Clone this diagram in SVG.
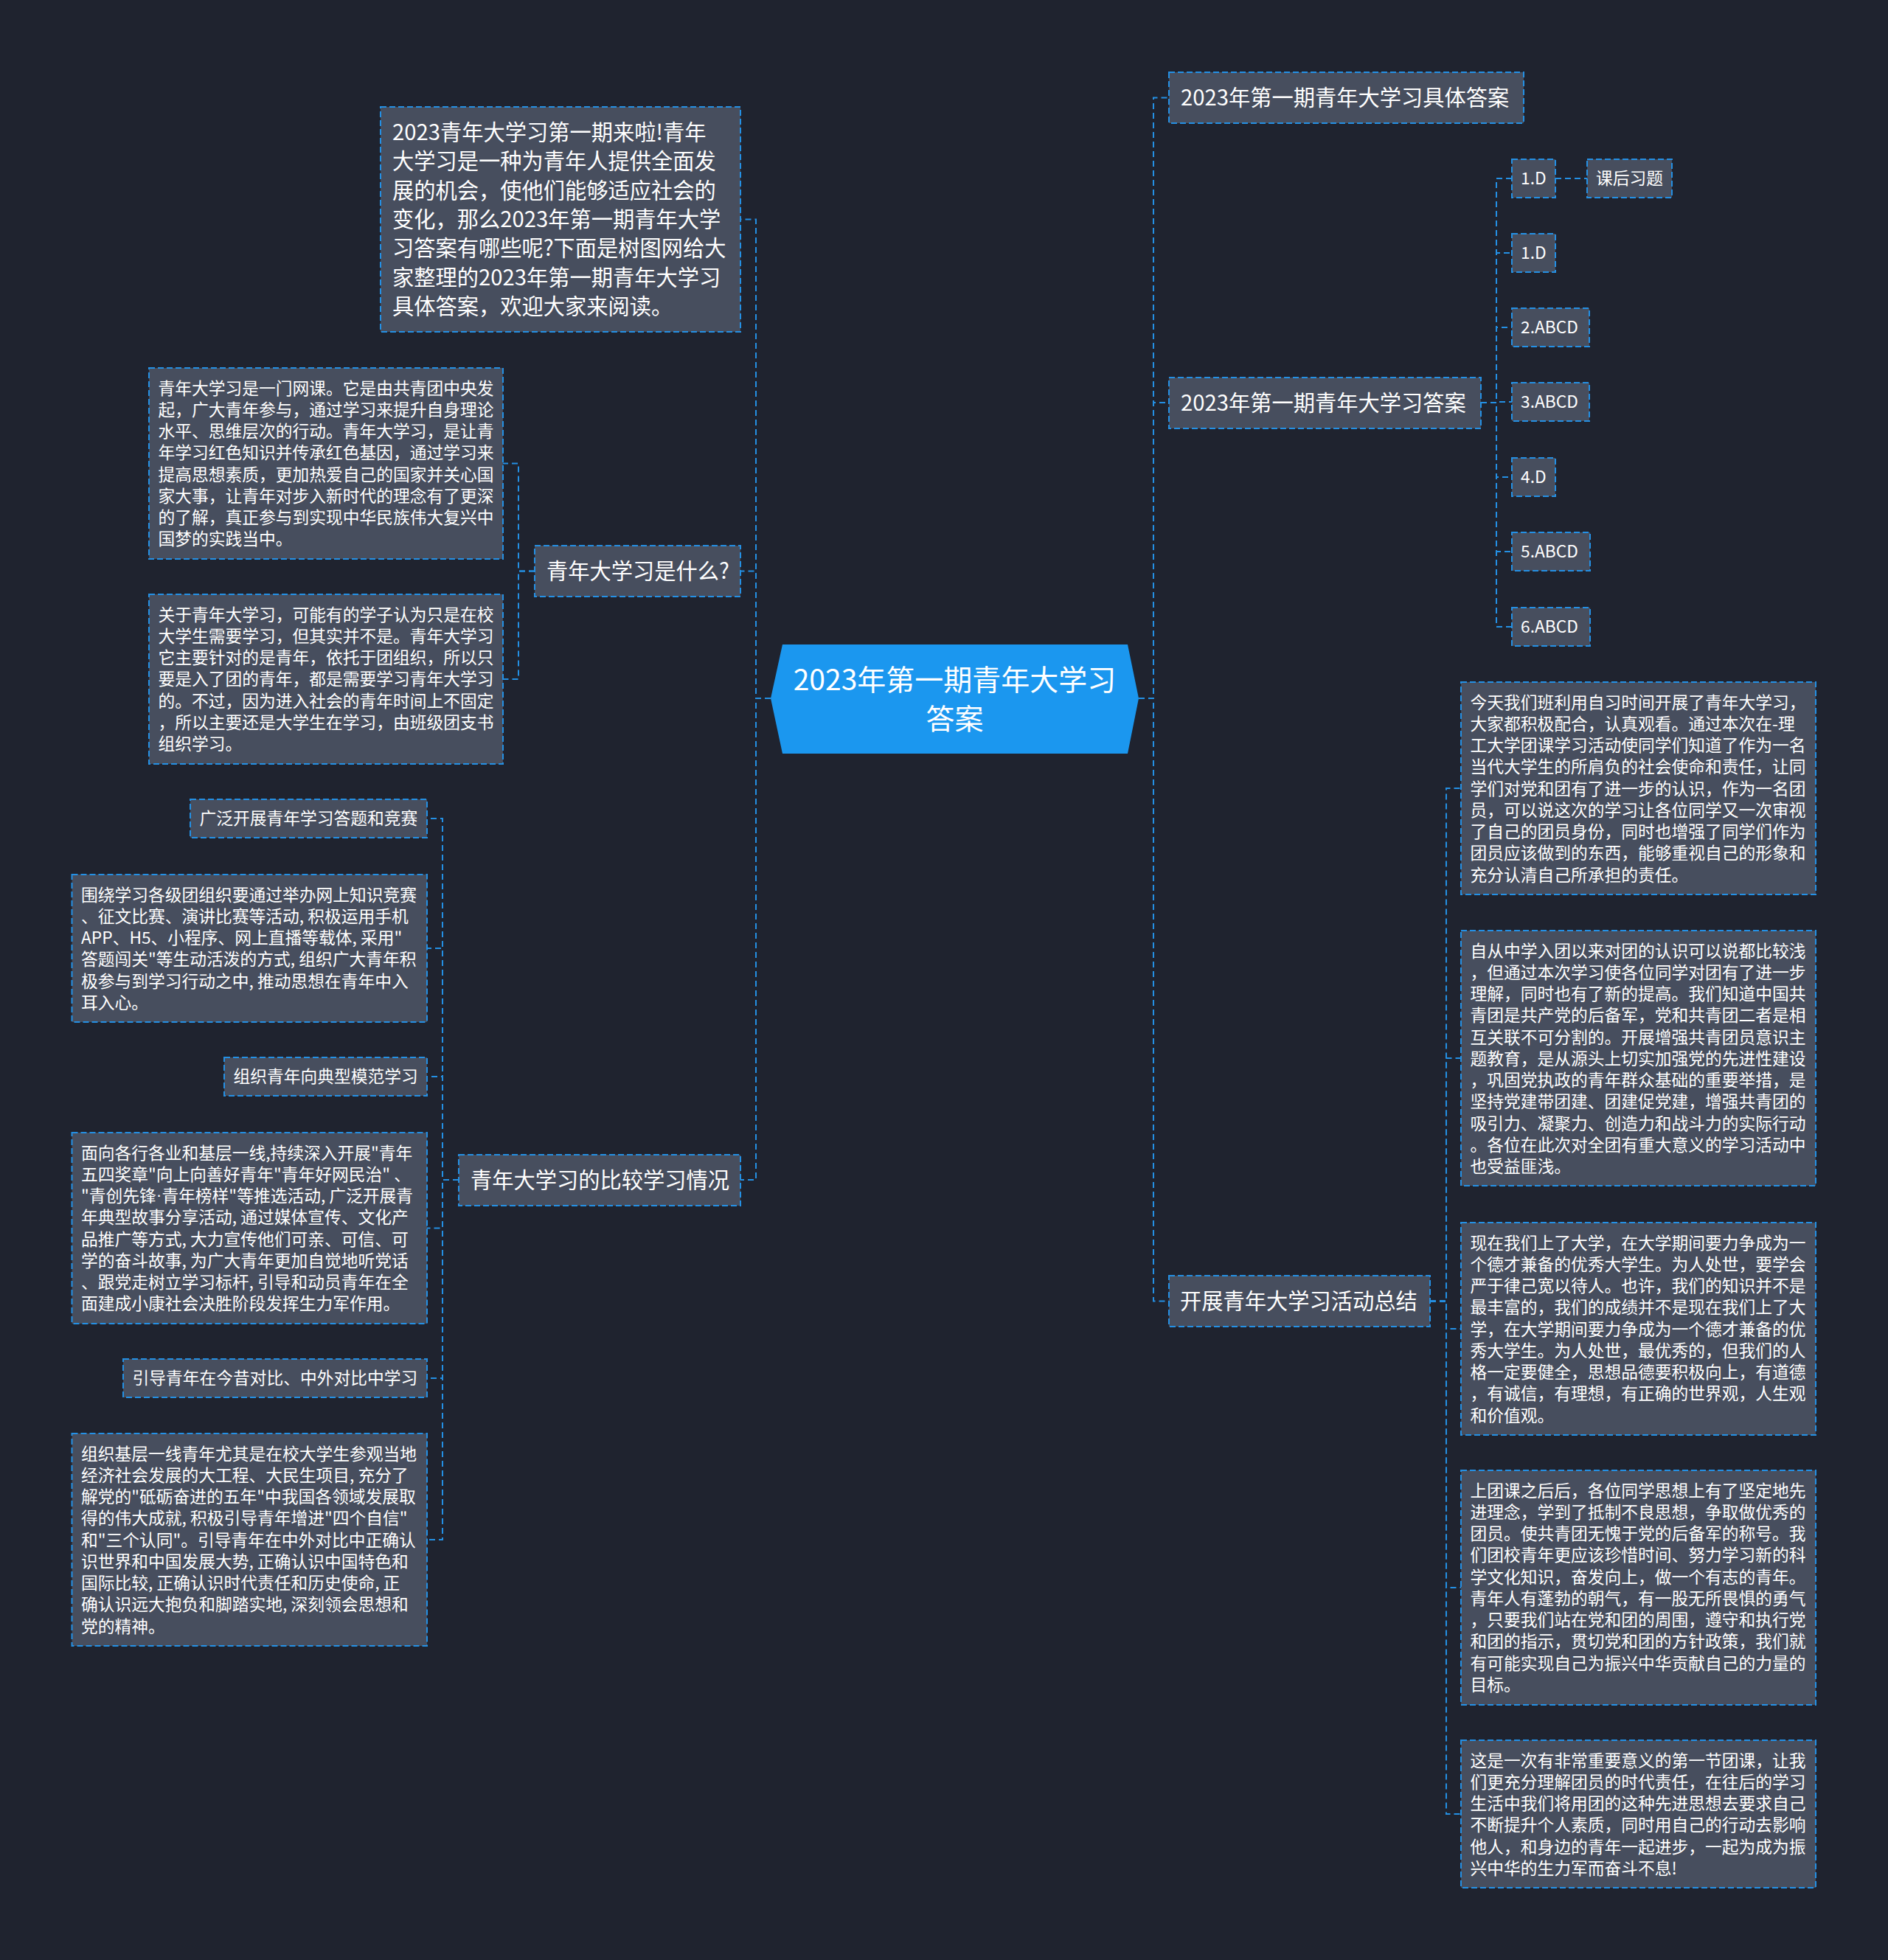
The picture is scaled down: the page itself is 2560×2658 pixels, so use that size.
<svg xmlns="http://www.w3.org/2000/svg" width="2560" height="2658" viewBox="0 0 2560 2658">
<style>
.bg{fill:#1f232f}
.box{fill:#474e5e;stroke:#2490e4;stroke-width:2;stroke-dasharray:8 4}
.edge{fill:none;stroke:#2490e4;stroke-width:2;stroke-dasharray:8 5}
.hex{fill:#1b97ef}
text{font-family:"Noto Sans CJK SC","Noto Sans",sans-serif;fill:#ffffff;dominant-baseline:central}
.leaf{font-size:22.75px;transform:translate(0px,-1.5px)}
.main{font-size:29.25px;transform:translate(0px,-3px)}
.ctr{font-size:39px;text-anchor:middle;transform:translate(0px,-3px)}
.lat{font-family:"Liberation Sans",sans-serif}
</style>
<rect class="bg" x="0" y="0" width="2560" height="2658"/>
<g id="connectors">
<path class="edge" d="M1544,947 H1564 V132.5 H1585"/>
<path class="edge" d="M1544,947 H1564 V546 H1585"/>
<path class="edge" d="M1544,947 H1564 V1764.5 H1585"/>
<path class="edge" d="M1045,947 H1025 V297.5 H1004"/>
<path class="edge" d="M1045,947 H1025 V774.5 H1004"/>
<path class="edge" d="M1045,947 H1025 V1600 H1004"/>
<path class="edge" d="M2008,546 H2029 V242 H2050"/>
<path class="edge" d="M2008,546 H2029 V343 H2050"/>
<path class="edge" d="M2008,546 H2029 V444 H2050"/>
<path class="edge" d="M2008,546 H2029 V545 H2050"/>
<path class="edge" d="M2008,546 H2029 V647 H2050"/>
<path class="edge" d="M2008,546 H2029 V748 H2050"/>
<path class="edge" d="M2008,546 H2029 V850 H2050"/>
<path class="edge" d="M2109,242 H2152"/>
<path class="edge" d="M1939,1764.5 H1961 V1069 H1981"/>
<path class="edge" d="M1939,1764.5 H1961 V1435 H1981"/>
<path class="edge" d="M1939,1764.5 H1961 V1802 H1981"/>
<path class="edge" d="M1939,1764.5 H1961 V2153 H1981"/>
<path class="edge" d="M1939,1764.5 H1961 V2460 H1981"/>
<path class="edge" d="M725,774.5 H703 V628.5 H682"/>
<path class="edge" d="M725,774.5 H703 V921 H682"/>
<path class="edge" d="M622,1600 H600 V1110 H579"/>
<path class="edge" d="M622,1600 H600 V1286 H579"/>
<path class="edge" d="M622,1600 H600 V1460 H579"/>
<path class="edge" d="M622,1600 H600 V1665.5 H579"/>
<path class="edge" d="M622,1600 H600 V1869 H579"/>
<path class="edge" d="M622,1600 H600 V2088 H579"/>
</g>
<g id="n-center">
<polygon class="hex" points="1061,874 1529,874 1544,947 1529,1022 1061,1022 1045,947"/>
<text class="ctr"><tspan x="1294.5" y="922">2023年第一期青年大学习</tspan><tspan x="1294.5" y="975">答案</tspan></text>
</g>
<g id="n-intro">
<rect class="box" x="516" y="145" width="488" height="305"/>
<text class="main"><tspan x="532" y="180">2023青年大学习第一期来啦!青年</tspan><tspan x="532" y="219.3">大学习是一种为青年人提供全面发</tspan><tspan x="532" y="258.6">展的机会，使他们能够适应社会的</tspan><tspan x="532" y="297.9">变化，那么2023年第一期青年大学</tspan><tspan x="532" y="337.2">习答案有哪些呢?下面是树图网给大</tspan><tspan x="532" y="376.5">家整理的2023年第一期青年大学习</tspan><tspan x="532" y="415.8">具体答案，欢迎大家来阅读。</tspan></text>
</g>
<g id="n-what">
<rect class="box" x="725" y="740" width="279" height="69"/>
<text class="main" x="741" y="774.5">青年大学习是什么?</text>
</g>
<g id="n-what-1">
<rect class="box" x="202" y="499" width="480" height="259"/>
<text class="leaf"><tspan x="214.5" y="526.1">青年大学习是一门网课。它是由共青团中央发</tspan><tspan x="214.5" y="555.4">起，广大青年参与，通过学习来提升自身理论</tspan><tspan x="214.5" y="584.6">水平、思维层次的行动。青年大学习，是让青</tspan><tspan x="214.5" y="613.9">年学习红色知识并传承红色基因，通过学习来</tspan><tspan x="214.5" y="643.1">提高思想素质，更加热爱自己的国家并关心国</tspan><tspan x="214.5" y="672.4">家大事，让青年对步入新时代的理念有了更深</tspan><tspan x="214.5" y="701.6">的了解，真正参与到实现中华民族伟大复兴中</tspan><tspan x="214.5" y="730.9">国梦的实践当中。</tspan></text>
</g>
<g id="n-what-2">
<rect class="box" x="202" y="806" width="480" height="230"/>
<text class="leaf"><tspan x="214.5" y="833.1">关于青年大学习，可能有的学子认为只是在校</tspan><tspan x="214.5" y="862.4">大学生需要学习，但其实并不是。青年大学习</tspan><tspan x="214.5" y="891.6">它主要针对的是青年，依托于团组织，所以只</tspan><tspan x="214.5" y="920.9">要是入了团的青年，都是需要学习青年大学习</tspan><tspan x="214.5" y="950.1">的。不过，因为进入社会的青年时间上不固定</tspan><tspan x="214.5" y="979.4">，所以主要还是大学生在学习，由班级团支书</tspan><tspan x="214.5" y="1008.6">组织学习。</tspan></text>
</g>
<g id="n-compare">
<rect class="box" x="622" y="1566" width="382" height="69"/>
<text class="main" x="638" y="1600.5">青年大学习的比较学习情况</text>
</g>
<g id="n-cmp-1">
<rect class="box" x="258" y="1084" width="321" height="52"/>
<text class="leaf" x="270.5" y="1110">广泛开展青年学习答题和竞赛</text>
</g>
<g id="n-cmp-2">
<rect class="box" x="97.5" y="1186" width="481.5" height="200"/>
<text class="leaf"><tspan x="110" y="1213.1">围绕学习各级团组织要通过举办网上知识竞赛</tspan><tspan x="110" y="1242.4">、征文比赛、演讲比赛等活动, 积极运用手机</tspan><tspan x="110" y="1271.6">APP、H5、小程序、网上直播等载体, 采用"</tspan><tspan x="110" y="1300.9">答题闯关"等生动活泼的方式, 组织广大青年积</tspan><tspan x="110" y="1330.1">极参与到学习行动之中, 推动思想在青年中入</tspan><tspan x="110" y="1359.4">耳入心。</tspan></text>
</g>
<g id="n-cmp-3">
<rect class="box" x="304" y="1434" width="275" height="52"/>
<text class="leaf" x="316.5" y="1460">组织青年向典型模范学习</text>
</g>
<g id="n-cmp-4">
<rect class="box" x="97.5" y="1536" width="481.5" height="259"/>
<text class="leaf"><tspan x="110" y="1563.1">面向各行各业和基层一线,持续深入开展"青年</tspan><tspan x="110" y="1592.4">五四奖章"向上向善好青年"青年好网民治" 、</tspan><tspan x="110" y="1621.6">"青创先锋<tspan class="lat">·</tspan>青年榜样"等推选活动, 广泛开展青</tspan><tspan x="110" y="1650.9">年典型故事分享活动, 通过媒体宣传、文化产</tspan><tspan x="110" y="1680.1">品推广等方式, 大力宣传他们可亲、可信、可</tspan><tspan x="110" y="1709.4">学的奋斗故事, 为广大青年更加自觉地听党话</tspan><tspan x="110" y="1738.6">、跟党走树立学习标杆, 引导和动员青年在全</tspan><tspan x="110" y="1767.9">面建成小康社会决胜阶段发挥生力军作用。</tspan></text>
</g>
<g id="n-cmp-5">
<rect class="box" x="167" y="1843" width="412" height="52"/>
<text class="leaf" x="179.5" y="1869">引导青年在今昔对比、中外对比中学习</text>
</g>
<g id="n-cmp-6">
<rect class="box" x="97.5" y="1944" width="481.5" height="288"/>
<text class="leaf"><tspan x="110" y="1971.1">组织基层一线青年尤其是在校大学生参观当地</tspan><tspan x="110" y="2000.4">经济社会发展的大工程、大民生项目, 充分了</tspan><tspan x="110" y="2029.6">解党的"砥砺奋进的五年"中我国各领域发展取</tspan><tspan x="110" y="2058.9">得的伟大成就, 积极引导青年增进"四个自信"</tspan><tspan x="110" y="2088.1">和"三个认同"。引导青年在中外对比中正确认</tspan><tspan x="110" y="2117.4">识世界和中国发展大势, 正确认识中国特色和</tspan><tspan x="110" y="2146.6">国际比较, 正确认识时代责任和历史使命, 正</tspan><tspan x="110" y="2175.9">确认识远大抱负和脚踏实地, 深刻领会思想和</tspan><tspan x="110" y="2205.1">党的精神。</tspan></text>
</g>
<g id="n-detail">
<rect class="box" x="1585" y="98" width="481" height="69"/>
<text class="main" x="1601" y="132.5">2023年第一期青年大学习具体答案</text>
</g>
<g id="n-answers">
<rect class="box" x="1585" y="512" width="423" height="69"/>
<text class="main" x="1601" y="546.5">2023年第一期青年大学习答案</text>
</g>
<g id="n-a1">
<rect class="box" x="2050" y="216" width="59" height="52"/>
<text class="leaf" x="2062" y="242">1.D</text>
</g>
<g id="n-a1-note">
<rect class="box" x="2152" y="216" width="115" height="52"/>
<text class="leaf" x="2164" y="242">课后习题</text>
</g>
<g id="n-a2">
<rect class="box" x="2050" y="317" width="59" height="52"/>
<text class="leaf" x="2062" y="343">1.D</text>
</g>
<g id="n-a3">
<rect class="box" x="2050" y="418" width="105" height="52"/>
<text class="leaf" x="2062" y="444">2.ABCD</text>
</g>
<g id="n-a4">
<rect class="box" x="2050" y="519" width="105" height="52"/>
<text class="leaf" x="2062" y="545">3.ABCD</text>
</g>
<g id="n-a5">
<rect class="box" x="2050" y="621" width="59" height="52"/>
<text class="leaf" x="2062" y="647">4.D</text>
</g>
<g id="n-a6">
<rect class="box" x="2050" y="722" width="106" height="52"/>
<text class="leaf" x="2062" y="748">5.ABCD</text>
</g>
<g id="n-a7">
<rect class="box" x="2050" y="824" width="106" height="52"/>
<text class="leaf" x="2062" y="850">6.ABCD</text>
</g>
<g id="n-summary">
<rect class="box" x="1585" y="1730" width="354" height="69"/>
<text class="main" x="1600" y="1764.5">开展青年大学习活动总结</text>
</g>
<g id="n-sum-1">
<rect class="box" x="1981" y="925" width="481" height="288"/>
<text class="leaf"><tspan x="1993.5" y="952.1">今天我们班利用自习时间开展了青年大学习，</tspan><tspan x="1993.5" y="981.4">大家都积极配合，认真观看。通过本次在-理</tspan><tspan x="1993.5" y="1010.6">工大学团课学习活动使同学们知道了作为一名</tspan><tspan x="1993.5" y="1039.9">当代大学生的所肩负的社会使命和责任，让同</tspan><tspan x="1993.5" y="1069.1">学们对党和团有了进一步的认识，作为一名团</tspan><tspan x="1993.5" y="1098.4">员，可以说这次的学习让各位同学又一次审视</tspan><tspan x="1993.5" y="1127.6">了自己的团员身份，同时也增强了同学们作为</tspan><tspan x="1993.5" y="1156.9">团员应该做到的东西，能够重视自己的形象和</tspan><tspan x="1993.5" y="1186.1">充分认清自己所承担的责任。</tspan></text>
</g>
<g id="n-sum-2">
<rect class="box" x="1981" y="1262" width="481" height="346"/>
<text class="leaf"><tspan x="1993.5" y="1289.1">自从中学入团以来对团的认识可以说都比较浅</tspan><tspan x="1993.5" y="1318.4">，但通过本次学习使各位同学对团有了进一步</tspan><tspan x="1993.5" y="1347.6">理解，同时也有了新的提高。我们知道中国共</tspan><tspan x="1993.5" y="1376.9">青团是共产党的后备军，党和共青团二者是相</tspan><tspan x="1993.5" y="1406.1">互关联不可分割的。开展增强共青团员意识主</tspan><tspan x="1993.5" y="1435.4">题教育，是从源头上切实加强党的先进性建设</tspan><tspan x="1993.5" y="1464.6">，巩固党执政的青年群众基础的重要举措，是</tspan><tspan x="1993.5" y="1493.9">坚持党建带团建、团建促党建，增强共青团的</tspan><tspan x="1993.5" y="1523.1">吸引力、凝聚力、创造力和战斗力的实际行动</tspan><tspan x="1993.5" y="1552.4">。各位在此次对全团有重大意义的学习活动中</tspan><tspan x="1993.5" y="1581.6">也受益匪浅。</tspan></text>
</g>
<g id="n-sum-3">
<rect class="box" x="1981" y="1658" width="481" height="288"/>
<text class="leaf"><tspan x="1993.5" y="1685.1">现在我们上了大学，在大学期间要力争成为一</tspan><tspan x="1993.5" y="1714.4">个德才兼备的优秀大学生。为人处世，要学会</tspan><tspan x="1993.5" y="1743.6">严于律己宽以待人。也许，我们的知识并不是</tspan><tspan x="1993.5" y="1772.9">最丰富的，我们的成绩并不是现在我们上了大</tspan><tspan x="1993.5" y="1802.1">学，在大学期间要力争成为一个德才兼备的优</tspan><tspan x="1993.5" y="1831.4">秀大学生。为人处世，最优秀的，但我们的人</tspan><tspan x="1993.5" y="1860.6">格一定要健全，思想品德要积极向上，有道德</tspan><tspan x="1993.5" y="1889.9">，有诚信，有理想，有正确的世界观，人生观</tspan><tspan x="1993.5" y="1919.1">和价值观。</tspan></text>
</g>
<g id="n-sum-4">
<rect class="box" x="1981" y="1994" width="481" height="318"/>
<text class="leaf"><tspan x="1993.5" y="2021.1">上团课之后后，各位同学思想上有了坚定地先</tspan><tspan x="1993.5" y="2050.4">进理念，学到了抵制不良思想，争取做优秀的</tspan><tspan x="1993.5" y="2079.6">团员。使共青团无愧于党的后备军的称号。我</tspan><tspan x="1993.5" y="2108.9">们团校青年更应该珍惜时间、努力学习新的科</tspan><tspan x="1993.5" y="2138.1">学文化知识，奋发向上，做一个有志的青年。</tspan><tspan x="1993.5" y="2167.4">青年人有蓬勃的朝气，有一股无所畏惧的勇气</tspan><tspan x="1993.5" y="2196.6">，只要我们站在党和团的周围，遵守和执行党</tspan><tspan x="1993.5" y="2225.9">和团的指示，贯切党和团的方针政策，我们就</tspan><tspan x="1993.5" y="2255.1">有可能实现自己为振兴中华贡献自己的力量的</tspan><tspan x="1993.5" y="2284.4">目标。</tspan></text>
</g>
<g id="n-sum-5">
<rect class="box" x="1981" y="2360" width="481" height="200"/>
<text class="leaf"><tspan x="1993.5" y="2387.1">这是一次有非常重要意义的第一节团课，让我</tspan><tspan x="1993.5" y="2416.4">们更充分理解团员的时代责任，在往后的学习</tspan><tspan x="1993.5" y="2445.6">生活中我们将用团的这种先进思想去要求自己</tspan><tspan x="1993.5" y="2474.9">不断提升个人素质，同时用自己的行动去影响</tspan><tspan x="1993.5" y="2504.1">他人，和身边的青年一起进步，一起为成为振</tspan><tspan x="1993.5" y="2533.4">兴中华的生力军而奋斗不息!</tspan></text>
</g>
</svg>
